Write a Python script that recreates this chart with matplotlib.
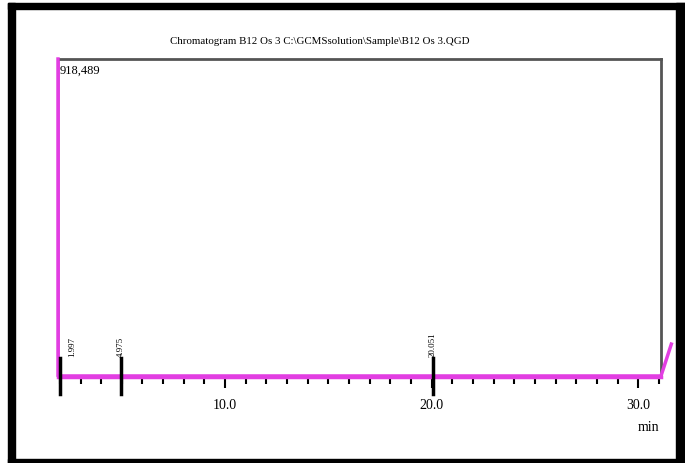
import matplotlib.pyplot as plt
from matplotlib.patches import Rectangle
from matplotlib.transforms import blended_transform_factory
from matplotlib.ticker import MultipleLocator

# data
title = r"Chromatogram B12 Os 3 C:\GCMSsolution\Sample\B12 Os 3.QGD"
max_intensity = 918489
trace_t = [1.91, 1.91, 5.0, 10.0, 20.0, 30.0, 31.1, 31.6]
trace_y = [max_intensity, 3000, 3000, 3000, 3000, 3000, 3000, 95000]
peak_t = [1.997, 4.975, 20.051]
peak_labels = ["1.997", "4.975", "20.051"]
major_ticks = [10.0, 20.0, 30.0]

magenta = "#e23ee2"
plt.rcParams['font.family'] = ['Liberation Serif', 'DejaVu Serif']

fig = plt.figure(figsize=(6.85, 4.64), dpi=100)
ax = fig.add_axes([58/685, 1-378/464, 603/685, 318/464])

ax.plot(trace_t, trace_y, color=magenta, lw=2.5, clip_on=False, zorder=3)
ax.set_xlim(1.91, 31.1)
ax.set_ylim(0, max_intensity)

# peak markers and retention time labels
tr = blended_transform_factory(ax.transData, ax.transAxes)
for t, lab in zip(peak_t, peak_labels):
    ax.plot([t, t], [-0.055, 0.06], color="black", lw=2.5, transform=tr, clip_on=False, zorder=4)
    ax.text(t + 0.6 if t < 3 else t, 0.065, lab, rotation=90, fontsize=6.5, ha="center", va="bottom",
            transform=tr, clip_on=False)

for s in ["top", "right"]:
    ax.spines[s].set_color("#555555")
    ax.spines[s].set_linewidth(2)
ax.spines["left"].set_color(magenta)
ax.spines["left"].set_linewidth(2)
ax.spines["bottom"].set_color(magenta)
ax.spines["bottom"].set_linewidth(2.5)

ax.set_yticks([])
ax.xaxis.set_major_locator(MultipleLocator(10))
ax.xaxis.set_minor_locator(MultipleLocator(1))
ax.set_xticks(major_ticks)
ax.set_xticklabels(["%.1f" % v for v in major_ticks], fontsize=10)
ax.tick_params(axis="x", which="major", length=8, width=1.5, color="black", pad=7)
ax.tick_params(axis="x", which="minor", length=5, width=1.5, color="black")

ax.text(0.002, 0.985, "{:,}".format(max_intensity), transform=ax.transAxes,
        ha="left", va="top", fontsize=9)
fig.text(320/685, 1-41/464, title, ha="center", va="center", fontsize=7.8)
fig.text(648/685, 1-428/464, "min", ha="center", va="center", fontsize=10)

# black border of the screenshot
for x0, y0, x1, y1 in [(8, 4, 15, 464), (8, 4, 685, 10), (676, 4, 685, 464), (8, 460, 685, 464)]:
    fig.add_artist(Rectangle((x0/685, 1-y1/464), (x1-x0)/685, (y1-y0)/464,
                             transform=fig.transFigure, color="black", zorder=10))

fig.savefig("out.png", dpi=100)
